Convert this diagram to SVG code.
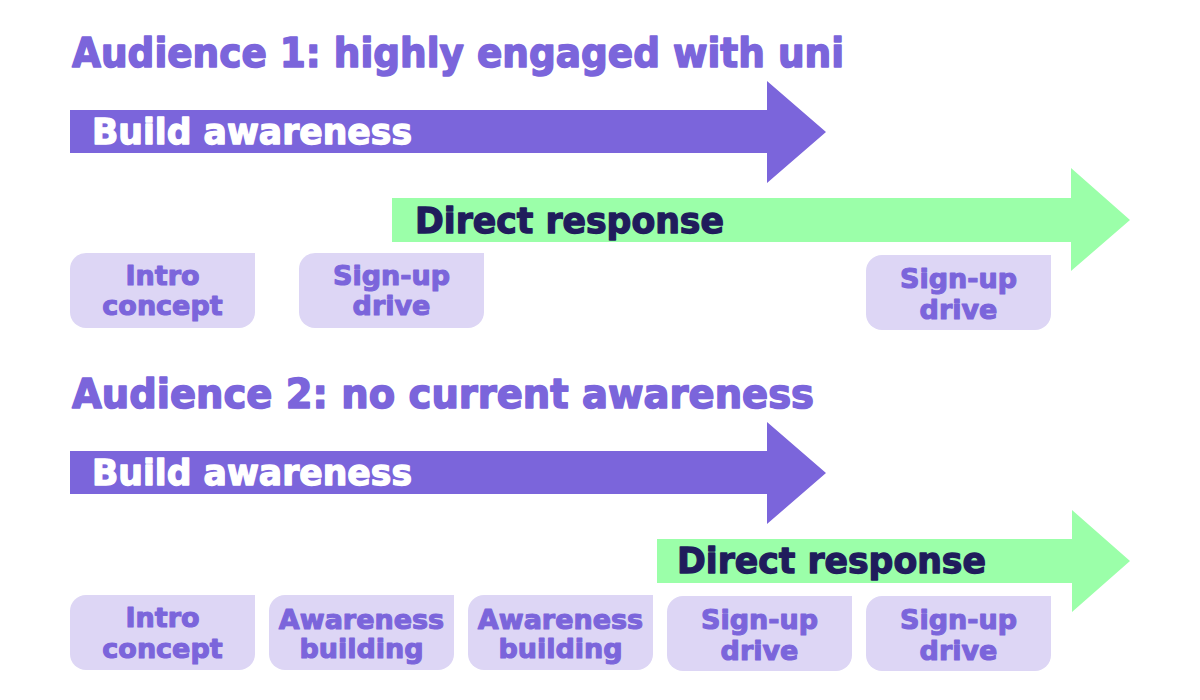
<svg xmlns="http://www.w3.org/2000/svg" width="1200" height="700" viewBox="0 0 1200 700">
  <style>
    text { font-family: "DejaVu Sans", "Liberation Sans", Arial, sans-serif; font-weight: 700; stroke-linejoin: round; }
    .title { font-size: 41px; fill: #7b65db; stroke: #7b65db; stroke-width: 1.6px; }
    .purple { fill: #7b65db; }
    .green { fill: #9bffa9; }
    .lblW { font-size: 35px; fill: #ffffff; stroke: #ffffff; stroke-width: 1.3px; }
    .lblD { font-size: 35px; fill: #201c5c; stroke: #201c5c; stroke-width: 1.3px; }
    .boxbg { fill: #ddd6f5; }
    .btxt { font-size: 27px; fill: #7b65db; stroke: #7b65db; stroke-width: 1.1px; text-anchor: middle; }
  </style>
  <defs>
    <path id="box" d="M16,0 H185 V59 A16,16 0 0 1 169,75 H16 A16,16 0 0 1 0,59 V16 A16,16 0 0 1 16,0 Z"/>
  </defs>
  <rect width="1200" height="700" fill="#ffffff"/>

  <g id="title1"><text class="title" x="72" y="67" textLength="772" lengthAdjust="spacingAndGlyphs">Audience 1: highly engaged with uni</text></g>
  <g id="title2"><text class="title" x="72" y="408" textLength="742" lengthAdjust="spacingAndGlyphs">Audience 2: no current awareness</text></g>

  <g id="connectors">
    <g id="arrow-build-1">
      <polygon class="purple" points="70,110 767,110 767,81 826,132 767,183 767,153 70,153"/>
      <text class="lblW" x="92" y="144" textLength="320" lengthAdjust="spacingAndGlyphs">Build awareness</text>
    </g>
    <g id="arrow-direct-1">
      <polygon class="green" points="392,198 1071,198 1071,168 1130,220 1071,271 1071,242 392,242"/>
      <text class="lblD" x="415" y="233" textLength="309" lengthAdjust="spacingAndGlyphs">Direct response</text>
    </g>
    <g id="arrow-build-2">
      <polygon class="purple" points="70,451 767,451 767,422 826,473 767,524 767,494 70,494"/>
      <text class="lblW" x="92" y="485" textLength="320" lengthAdjust="spacingAndGlyphs">Build awareness</text>
    </g>
    <g id="arrow-direct-2">
      <polygon class="green" points="657,539 1072,539 1072,510 1130,561 1072,612 1072,583 657,583"/>
      <text class="lblD" x="677" y="573" textLength="309" lengthAdjust="spacingAndGlyphs">Direct response</text>
    </g>
  </g>

  <g id="r1-intro">
    <use href="#box" class="boxbg" x="70" y="253"/>
    <text class="btxt" x="162.5" y="285">Intro</text>
    <text class="btxt" x="162.5" y="315">concept</text>
  </g>
  <g id="r1-signup-a">
    <use href="#box" class="boxbg" x="299" y="253"/>
    <text class="btxt" x="391.5" y="285">Sign-up</text>
    <text class="btxt" x="391.5" y="315">drive</text>
  </g>
  <g id="r1-signup-b">
    <use href="#box" class="boxbg" x="866" y="255"/>
    <text class="btxt" x="958.5" y="288">Sign-up</text>
    <text class="btxt" x="958.5" y="319">drive</text>
  </g>

  <g id="r2-intro">
    <use href="#box" class="boxbg" x="70" y="595"/>
    <text class="btxt" x="162.5" y="627">Intro</text>
    <text class="btxt" x="162.5" y="658">concept</text>
  </g>
  <g id="r2-aware-a">
    <use href="#box" class="boxbg" x="269" y="595"/>
    <text class="btxt" x="361.5" y="629">Awareness</text>
    <text class="btxt" x="361.5" y="658">building</text>
  </g>
  <g id="r2-aware-b">
    <use href="#box" class="boxbg" x="468" y="595"/>
    <text class="btxt" x="560.5" y="629">Awareness</text>
    <text class="btxt" x="560.5" y="658">building</text>
  </g>
  <g id="r2-signup-a">
    <use href="#box" class="boxbg" x="667" y="596"/>
    <text class="btxt" x="759.5" y="629">Sign-up</text>
    <text class="btxt" x="759.5" y="660">drive</text>
  </g>
  <g id="r2-signup-b">
    <use href="#box" class="boxbg" x="866" y="596"/>
    <text class="btxt" x="958.5" y="629">Sign-up</text>
    <text class="btxt" x="958.5" y="660">drive</text>
  </g>
</svg>
